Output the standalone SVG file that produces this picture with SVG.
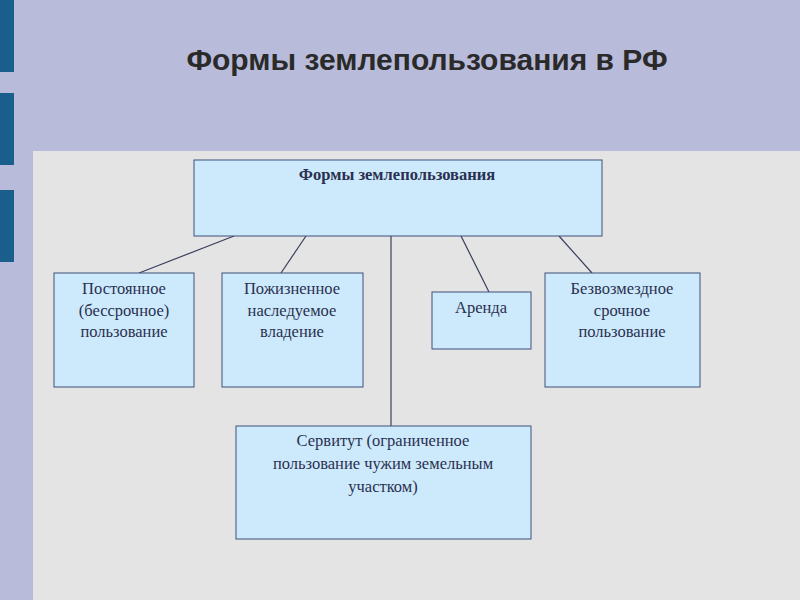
<svg xmlns="http://www.w3.org/2000/svg" width="800" height="600" viewBox="0 0 800 600">
<style>
.box{fill:#cdeafc;stroke:#3f4f7a;stroke-width:1}
.t{font-family:"Liberation Serif",serif;font-size:16.5px;fill:#2a3050;text-anchor:middle}
.c{stroke:#3a4060;stroke-width:1.2;fill:none}
</style>
<rect width="800" height="600" fill="#b8bbd9"/>
<rect x="0" y="0" width="14" height="72" fill="#1a5f8c"/>
<rect x="0" y="93" width="14" height="72" fill="#1a5f8c"/>
<rect x="0" y="190" width="14" height="72" fill="#1a5f8c"/>
<rect x="33" y="151" width="767" height="449" fill="#e4e4e4"/>
<text x="427" y="70" font-family="Liberation Sans,sans-serif" font-size="30" font-weight="bold" fill="#2a2a2a" text-anchor="middle">Формы землепользования в РФ</text>
<g id="connectors">
<line class="c" x1="234" y1="236" x2="139" y2="273"/>
<line class="c" x1="306" y1="236" x2="281" y2="273"/>
<line class="c" x1="391" y1="236" x2="391" y2="426"/>
<line class="c" x1="461" y1="236" x2="489" y2="292"/>
<line class="c" x1="559" y1="236" x2="592" y2="273"/>
</g>
<g id="root"><rect class="box" x="194" y="160" width="408" height="76"/><text class="t" x="397" y="180" font-weight="bold" font-size="16">Формы землепользования</text></g>
<g id="n1"><rect class="box" x="54" y="273" width="140" height="114"/><text class="t" x="124" y="294">Постоянное</text><text class="t" x="124" y="316">(бессрочное)</text><text class="t" x="124" y="337">пользование</text></g>
<g id="n2"><rect class="box" x="222" y="273" width="141" height="114"/><text class="t" x="292" y="294">Пожизненное</text><text class="t" x="292" y="316">наследуемое</text><text class="t" x="292" y="337">владение</text></g>
<g id="n3"><rect class="box" x="432" y="292" width="99" height="57"/><text class="t" x="481" y="313">Аренда</text></g>
<g id="n4"><rect class="box" x="545" y="273" width="155" height="114"/><text class="t" x="622" y="294">Безвозмездное</text><text class="t" x="622" y="316">срочное</text><text class="t" x="622" y="337">пользование</text></g>
<g id="n5"><rect class="box" x="236" y="426" width="295" height="113"/><text class="t" x="383" y="446">Сервитут (ограниченное</text><text class="t" x="383" y="469">пользование чужим земельным</text><text class="t" x="383" y="492">участком)</text></g>
</svg>
